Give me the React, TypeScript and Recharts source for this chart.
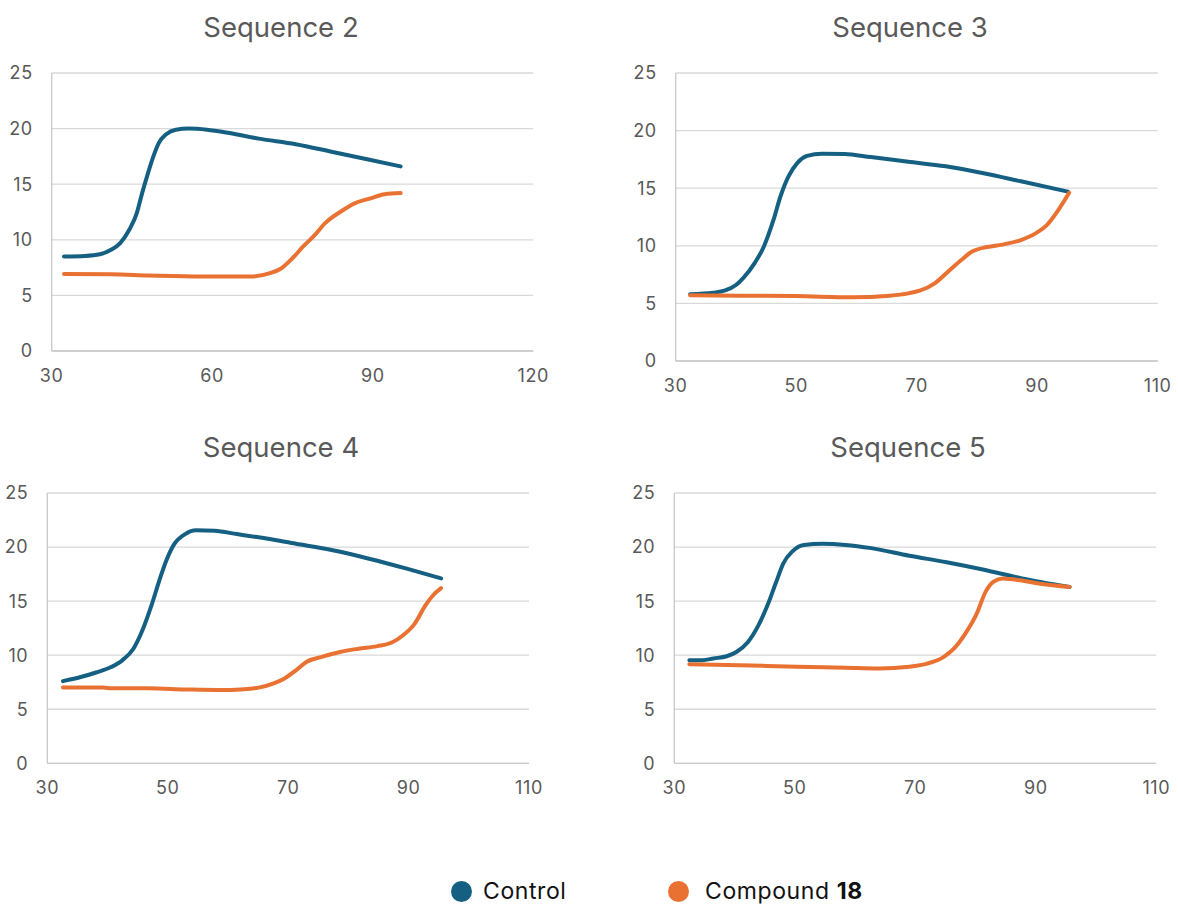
import { LineChart, Line, XAxis, YAxis, CartesianGrid } from "recharts";

// temperature (x) vs signal (y)
const seq2Control = [[32.3, 8.5], [36.2, 8.55], [39, 8.7], [41.1, 9.1], [42.8, 9.7], [44.5, 10.9], [45.9, 12.4], [46.9, 14.2], [48, 16], [49, 17.5], [50, 18.7], [51.4, 19.5], [53.2, 19.9], [55.6, 20], [59, 19.9], [63.2, 19.6], [68.7, 19.1], [75.6, 18.6], [82.5, 17.9], [89.4, 17.2], [95.2, 16.6]];
const seq2Compound = [[32.3, 6.92], [41.1, 6.9], [48, 6.8], [58.3, 6.7], [67.3, 6.7], [70.8, 7], [72.8, 7.4], [74.9, 8.3], [77, 9.4], [79.1, 10.4], [81.1, 11.5], [83.9, 12.5], [86.7, 13.3], [89.4, 13.7], [92.2, 14.1], [95.2, 14.2]];

const seq3Control = [[32.4, 5.8], [36.2, 5.93], [38.1, 6.1], [40, 6.6], [41.2, 7.2], [43.1, 8.5], [44.6, 9.9], [46.2, 12.2], [47.4, 14.3], [48.7, 16], [50.2, 17.2], [51.8, 17.8], [54.3, 18], [58, 17.97], [62.4, 17.7], [68.6, 17.3], [74.8, 16.9], [81.1, 16.3], [87.3, 15.6], [95.1, 14.7]];
const seq3Compound = [[32.4, 5.7], [40.6, 5.67], [49.9, 5.64], [59.3, 5.53], [65.5, 5.67], [68.6, 5.87], [70.5, 6.1], [73, 6.74], [75.5, 7.9], [77.4, 8.77], [79.2, 9.5], [81.7, 9.9], [84.2, 10.1], [87.3, 10.5], [89.8, 11.1], [91.6, 11.8], [93.5, 13.1], [95.3, 14.6]];

const seq4Control = [[32.6, 7.6], [35.7, 8], [38.1, 8.4], [40.6, 8.9], [42.4, 9.5], [44.3, 10.6], [45.8, 12.3], [47.3, 14.6], [48.6, 16.9], [49.8, 18.8], [51, 20.2], [52.9, 21.2], [54.7, 21.55], [57.8, 21.5], [61.5, 21.2], [65.1, 20.9], [71.3, 20.3], [77.4, 19.7], [83.6, 18.9], [89.7, 18], [95.4, 17.1]];
const seq4Compound = [[32.6, 7.02], [39.3, 7], [40.6, 6.93], [46.7, 6.93], [52.9, 6.83], [59, 6.77], [62.1, 6.83], [65.1, 7], [67.6, 7.4], [69.4, 7.85], [71.3, 8.6], [73.1, 9.4], [75.6, 9.85], [78.6, 10.3], [81.7, 10.6], [84.8, 10.84], [87.3, 11.2], [89.1, 11.85], [91, 12.9], [92.8, 14.6], [94, 15.5], [95.4, 16.2]];

const seq5Control = [[32.5, 9.54], [34.7, 9.54], [36.5, 9.7], [38.7, 9.9], [40.3, 10.3], [42.2, 11.2], [44, 12.8], [45.6, 14.8], [46.8, 16.6], [48.1, 18.5], [49.6, 19.6], [51.5, 20.2], [54.6, 20.3], [58.4, 20.2], [62.7, 19.9], [69, 19.2], [75.2, 18.6], [81.4, 17.9], [87.7, 17.1], [95.6, 16.3]];
const seq5Compound = [[32.5, 9.17], [40.9, 9.08], [50.3, 8.93], [58.4, 8.84], [64, 8.77], [69, 8.93], [72.1, 9.24], [74.6, 9.8], [76.4, 10.6], [78.3, 12], [80.2, 13.85], [81.7, 15.9], [83, 16.8], [84.5, 17.1], [87.7, 16.9], [90.8, 16.6], [95.6, 16.3]];

const yTicks = [0, 5, 10, 15, 20, 25];
const xTicksWide = [30, 60, 90, 120];
const xTicksNarrow = [30, 50, 70, 90, 110];
const seriesNames = ["Control", "Compound"];

const CONTROL = "#156082";
const COMPOUND = "#E97132";
const GRID = "#D9D9D9";
const AXIS = "#C9C9C9";
const TEXT = "#595959";
const FONT = "Inter, 'Open Sans', sans-serif";

const toRows = (pts: number[][]) => pts.map(([x, y]) => ({ x, y }));

const panels = [
  { title: "Sequence 2", control: seq2Control, compound: seq2Compound, xTicks: xTicksWide, box: [0, 0], titleX: 281, plot: [51.7, 533.3, 73, 351] },
  { title: "Sequence 3", control: seq3Control, compound: seq3Compound, xTicks: xTicksNarrow, box: [590, 0], titleX: 910, plot: [675.7, 1157.7, 73, 361] },
  { title: "Sequence 4", control: seq4Control, compound: seq4Compound, xTicks: xTicksNarrow, box: [0, 420], titleX: 281, plot: [47.3, 529, 493, 763.3] },
  { title: "Sequence 5", control: seq5Control, compound: seq5Compound, xTicks: xTicksNarrow, box: [590, 420], titleX: 908, plot: [674.3, 1156.3, 493, 763.3] },
];

const W = 588, H = 410, YW = 40, XH = 34;
const tickStyle = { fill: TEXT, fontSize: 18, fontFamily: FONT, letterSpacing: 0.6 };

function Panel({ p }: { p: (typeof panels)[number] }) {
  const [bx, by] = p.box;
  const [l, r, t, b] = p.plot;
  const margin = { left: l - bx - YW, right: bx + W - r, top: t - by, bottom: by + H - b - XH };
  const xs = p.xTicks;
  return (
    <div style={{ position: "absolute", left: bx, top: by, width: W, height: H }}>
      <div style={{ position: "absolute", left: p.titleX - bx - 150, top: 11, width: 300, textAlign: "center", fontFamily: FONT, fontSize: 27.5, color: TEXT, lineHeight: "33px" }}>
        {p.title}
      </div>
      <LineChart width={W} height={H} margin={margin}>
        <CartesianGrid vertical={false} stroke={GRID} strokeWidth={1.3} />
        <XAxis type="number" dataKey="x" domain={[xs[0], xs[xs.length - 1]]} ticks={xs} tickLine={false} tickSize={6} tickMargin={12} height={XH} axisLine={{ stroke: AXIS, strokeWidth: 1.3 }} tick={tickStyle} interval={0} />
        <YAxis type="number" domain={[0, 25]} ticks={yTicks} tickLine={false} tickSize={6} tickMargin={13} width={YW} axisLine={{ stroke: AXIS, strokeWidth: 1.3 }} tick={tickStyle} interval={0} />
        <Line data={toRows(p.control)} dataKey="y" name={seriesNames[0]} type="monotone" stroke={CONTROL} strokeWidth={4} strokeLinecap="round" dot={false} isAnimationActive={false} />
        <Line data={toRows(p.compound)} dataKey="y" name={seriesNames[1]} type="monotone" stroke={COMPOUND} strokeWidth={4} strokeLinecap="round" dot={false} isAnimationActive={false} />
      </LineChart>
    </div>
  );
}

const dot = (c: string, cx: number) => (
  <span style={{ position: "absolute", left: cx - 10.5, top: 880.5, width: 21, height: 21, borderRadius: "50%", background: c }} />
);

export default function App() {
  return (
    <div style={{ position: "absolute", left: 0, top: 0, width: 1178, height: 907, background: "#fff", fontFamily: FONT }}>
      {panels.map((p) => <Panel key={p.title} p={p} />)}
      {dot(CONTROL, 461)}
      <span style={{ position: "absolute", left: 483, top: 876, fontSize: 23, lineHeight: "30px", color: "#111", letterSpacing: 0.6 }}>{seriesNames[0]}</span>
      {dot(COMPOUND, 678)}
      <span style={{ position: "absolute", left: 705, top: 876, fontSize: 23, lineHeight: "30px", color: "#111", letterSpacing: 0.6, whiteSpace: "nowrap" }}>
        {seriesNames[1]} <b>18</b>
      </span>
    </div>
  );
}
